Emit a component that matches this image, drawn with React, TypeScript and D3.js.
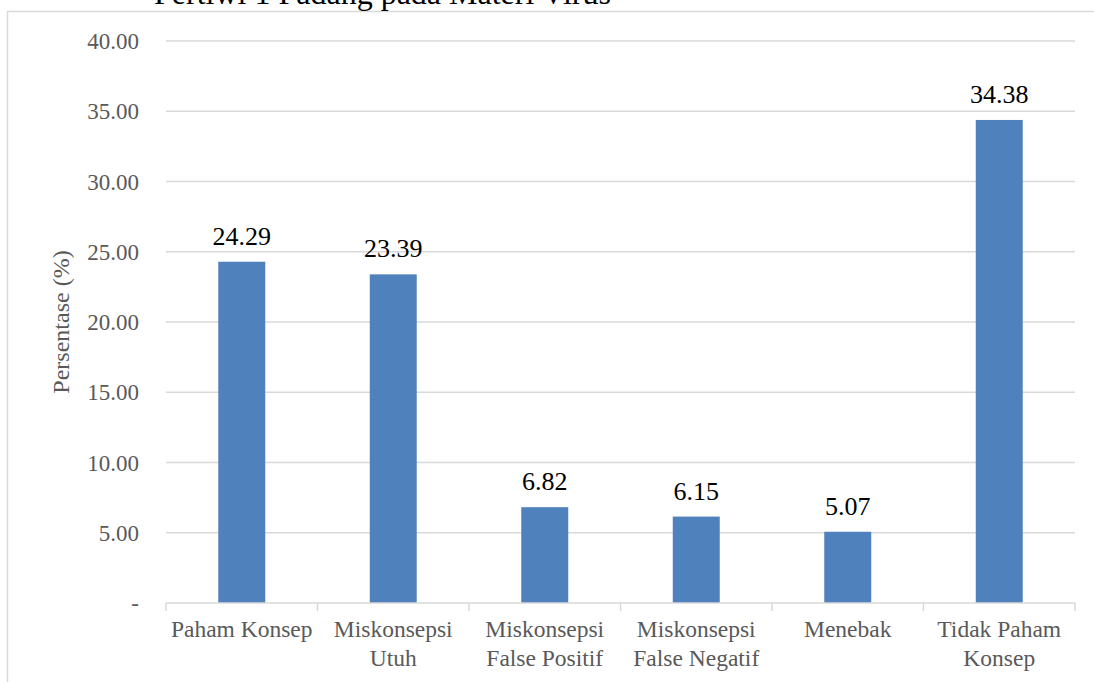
import React from "react";
import * as d3 from "d3";

const categories: string[][] = [
  ["Paham Konsep"],
  ["Miskonsepsi", "Utuh"],
  ["Miskonsepsi", "False Positif"],
  ["Miskonsepsi", "False Negatif"],
  ["Menebak"],
  ["Tidak Paham", "Konsep"],
];
const values: number[] = [24.29, 23.39, 6.82, 6.15, 5.07, 34.38];
const yTicks: number[] = [0, 5, 10, 15, 20, 25, 30, 35, 40];
const title = "Pertiwi 1 Padang pada Materi Virus";
const yLabel = "Persentase (%)";

export default function App() {
  const W = 1094, H = 682;
  const left = 166, right = 1075, top = 41, bottom = 603;
  const x = d3.scaleBand<number>().domain(d3.range(categories.length)).range([left, right]).paddingInner(0.69).paddingOuter(0.345);
  const xb = d3.scaleBand<number>().domain(d3.range(categories.length)).range([left, right]);
  const y = d3.scaleLinear().domain([0, 40]).range([bottom, top]);
  const font = "'Liberation Serif', 'Times New Roman', serif";
  const fmt = (v: number) => (v === 0 ? "-" : d3.format(".2f")(v));
  return (
    <svg width={W} height={H} style={{ position: "absolute", left: 0, top: 0 }} fontFamily={font}>
      <rect x={0} y={0} width={W} height={H} fill="#fff" />
      <rect x={7.5} y={11.5} width={W + 10} height={H} fill="none" stroke="#d9d9d9" strokeWidth={1.5} />
      <text x={154} y={4} fontSize={32} fill="#000">{title}</text>
      {yTicks.map((t) => (
        <g key={t}>
          {t > 0 && <line x1={left} x2={right} y1={y(t)} y2={y(t)} stroke="#d9d9d9" strokeWidth={1.3} />}
          <text x={139} y={y(t)} dy="0.35em" textAnchor="end" fontSize={23} fill="#595959">{fmt(t)}</text>
        </g>
      ))}
      <text transform={`translate(69,${(top + bottom) / 2}) rotate(-90)`} textAnchor="middle" fontSize={24} fill="#595959">{yLabel}</text>
      {values.map((v, i) => (
        <g key={i}>
          <rect x={x(i)} y={y(v)} width={x.bandwidth()} height={bottom - y(v)} fill="#4f81bd" />
          <text x={x(i)! + x.bandwidth() / 2} y={y(v) - 17} textAnchor="middle" fontSize={26} fill="#000">{d3.format(".2f")(v)}</text>
        </g>
      ))}
      <line x1={left} x2={right} y1={bottom} y2={bottom} stroke="#d9d9d9" strokeWidth={1.5} />
      {d3.range(categories.length + 1).map((i) => {
        const px = i < categories.length ? xb(i)! : right;
        return <line key={i} x1={px} x2={px} y1={bottom} y2={bottom + 8} stroke="#d9d9d9" strokeWidth={1.5} />;
      })}
      {categories.map((lines, i) => (
        <text key={i} textAnchor="middle" fontSize={23.5} fill="#595959">
          {lines.map((l, j) => (
            <tspan key={j} x={xb(i)! + xb.bandwidth() / 2} y={637 + j * 28.5}>{l}</tspan>
          ))}
        </text>
      ))}
    </svg>
  );
}
